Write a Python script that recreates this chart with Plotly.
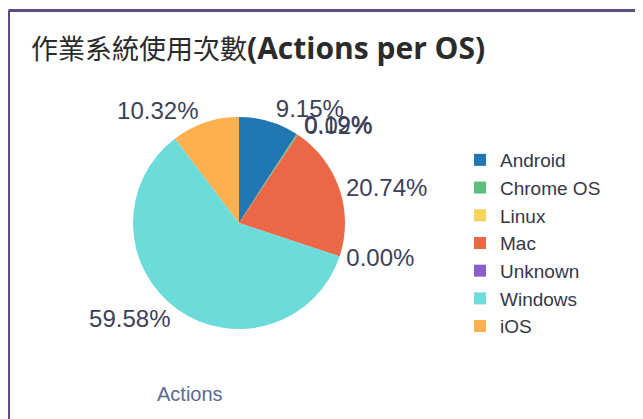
import plotly.graph_objects as go

# data
os_names = ["Android", "Chrome OS", "Linux", "Mac", "Unknown", "Windows", "iOS"]
share = [9.15, 0.19, 0.02, 20.74, 0.004, 59.58, 10.32]
colors = ["#2177b1", "#5dbe7e", "#f8d35c", "#eb6846", "#8a5fcb", "#6cdcda", "#fdb04e"]

# page body has an 8px margin, so the figure is 8px smaller than the window
W, H = 635, 411

def px(x, y):
    # window pixel -> paper coords (margins are zero)
    return (x - 8) / W, 1 - (y - 8) / H

(dx0, dy1), (dx1, dy0) = px(133, 117), px(345, 329)
dom = dict(x=[dx0, dx1], y=[dy0, dy1])
lbl_font = dict(family="Liberation Sans", size=24, color="#3d3f5a")

def only(names):
    return ["%{percent:.2%}" if n in names else "" for n in os_names]

common = dict(labels=os_names, values=share, sort=False, direction="clockwise",
              rotation=0, textposition="outside", textfont=lbl_font,
              domain=dom, automargin=False)

fig = go.Figure()
fig.add_pie(marker=dict(colors=colors, line=dict(width=0)),
            texttemplate=only(["Android", "Mac", "Unknown", "Windows", "iOS"]), **common)
# the tiny slices keep their own labels (they sit on top of each other)
for name in ["Chrome OS", "Linux"]:
    fig.add_pie(marker=dict(colors=["rgba(0,0,0,0)"] * len(os_names)),
                texttemplate=only([name]), showlegend=False, hoverinfo="skip", **common)

bx, by = px(8.5, 10.5)
lx, ly = px(460, 141)
tx, ty = px(29, 47)
ax, ay = px(190, 394)
fig.update_layout(
    width=W, height=H, margin=dict(l=0, r=0, t=0, b=0),
    paper_bgcolor="white", plot_bgcolor="white",
    font=dict(family="Liberation Sans", size=20, color="#333"),
    legend=dict(x=lx, y=ly, xanchor="left", yanchor="top",
                font=dict(size=19, color="#363848"), itemwidth=30,
                traceorder="normal"),
    shapes=[
        dict(type="line", xref="paper", yref="paper", x0=bx, x1=1, y0=by, y1=by,
             line=dict(color="#5e4b80", width=3)),
        dict(type="line", xref="paper", yref="paper", x0=bx, x1=bx, y0=by, y1=0,
             line=dict(color="#5e4b80", width=3)),
    ],
    annotations=[
        dict(text="作業系統使用次數<span style='font-size:30px'><b>(Actions per OS)</b></span>",
             x=tx, y=ty, xref="paper", yref="paper", xanchor="left", yanchor="middle",
             showarrow=False,
             font=dict(family="Open Sans, Noto Sans CJK TC", size=27, color="#2b2b2b")),
        dict(text="Actions", x=ax, y=ay, xref="paper", yref="paper",
             xanchor="center", yanchor="middle", showarrow=False,
             font=dict(family="Liberation Sans", size=20, color="#5b6b8e")),
    ],
)
fig.write_html("out.html")
